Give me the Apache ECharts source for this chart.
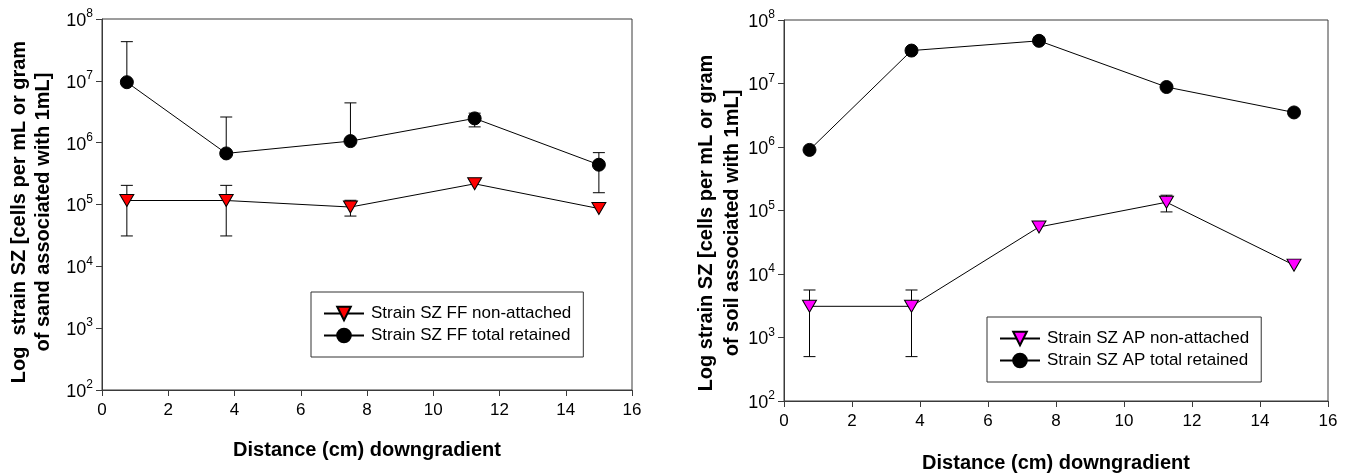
<!DOCTYPE html>
<html><head><meta charset="utf-8">
<script src="https://cdn.jsdelivr.net/npm/echarts@6/dist/echarts.min.js"></script>
<style>html,body{margin:0;padding:0;background:#fff}#c{width:1351px;height:474px}</style>
</head><body><div id="c"></div>
<script>
// ---- data ----
const distances = [0.75, 3.75, 7.5, 11.25, 15];
const xTicks = [0, 2, 4, 6, 8, 10, 12, 14, 16];
const yTickExponents = [2, 3, 4, 5, 6, 7, 8];

// left panel (FF)
const ffNonAttached = [1.16e5, 1.16e5, 9.1e4, 2.16e5, 8.6e4];
const ffNonAttachedLow = [3.1e4, 3.1e4, 6.5e4, null, null];
const ffNonAttachedHigh = [2.04e5, 2.04e5, 1.17e5, null, null];
const ffTotal = [9.5e6, 6.7e5, 1.06e6, 2.47e6, 4.4e5];
const ffTotalLow = [null, null, null, 1.8e6, 1.55e5];
const ffTotalHigh = [4.3e7, 2.6e6, 4.4e6, 3.0e6, 6.9e5];

// right panel (AP)
const apNonAttached = [3.1e3, 3.1e3, 5.5e4, 1.35e5, 1.38e4];
const apNonAttachedLow = [500, 500, null, 9.5e4, null];
const apNonAttachedHigh = [5.6e3, 5.6e3, null, 1.74e5, null];
const apTotal = [9.0e5, 3.3e7, 4.7e7, 8.8e6, 3.5e6];

const names = {
  ffNA: 'Strain SZ FF non-attached', ffT: 'Strain SZ FF total retained',
  apNA: 'Strain SZ AP non-attached', apT: 'Strain SZ AP total retained'
};

const FONT = "'Liberation Sans', Arial, sans-serif";
const TRI = 'path://M0,0L14,0L7,12Z';
const AXC = '#3a3a3a';

function pts(vals){ return distances.map((x,i)=>[x, vals[i]]); }

function errSeries(gi, vals, low, high){
  return {
    type: 'custom', xAxisIndex: gi, yAxisIndex: gi, z: 1, silent: true,
    data: pts(vals),
    renderItem: function(params, api){
      const i = params.dataIndex;
      const v = vals[i], lo = low[i], hi = high[i];
      if (lo == null && hi == null) return null;
      const x = distances[i];
      const pTop = api.coord([x, hi != null ? hi : v]);
      const pBot = api.coord([x, lo != null ? lo : v]);
      const st = {stroke: '#000', lineWidth: 1};
      const ch = [{type:'line', shape:{x1:pTop[0], y1:pTop[1], x2:pBot[0], y2:pBot[1]}, style: st}];
      if (hi != null) ch.push({type:'line', shape:{x1:pTop[0]-6, y1:pTop[1], x2:pTop[0]+6, y2:pTop[1]}, style: st});
      if (lo != null) ch.push({type:'line', shape:{x1:pBot[0]-6, y1:pBot[1], x2:pBot[0]+6, y2:pBot[1]}, style: st});
      return {type:'group', children: ch};
    }
  };
}

function lineSeries(gi, name, vals, symbol, size, color){
  return {
    type: 'line', name: name, xAxisIndex: gi, yAxisIndex: gi, z: 3,
    data: pts(vals), symbol: symbol, symbolSize: size,
    lineStyle: {color: '#000', width: 1},
    itemStyle: {color: color, borderColor: '#000', borderWidth: 1},
    emphasis: {disabled: true}, animation: false
  };
}

function xAxis(gi){
  return {
    type: 'value', gridIndex: gi, min: 0, max: 16, interval: 2,
    axisLine: {lineStyle: {color: AXC, width: 1}},
    axisTick: {show: true, length: 6, inside: false, lineStyle: {color: AXC}},
    splitLine: {show: false},
    axisLabel: {color: '#000', fontFamily: FONT, fontSize: 17, margin: 12,
      formatter: v => xTicks.includes(v) ? String(v) : ''}
  };
}
function yAxis(gi){
  return {
    type: 'log', logBase: 10, gridIndex: gi, min: 100, max: 1e8, interval: 1,
    axisLine: {show: true, lineStyle: {color: AXC, width: 1}},
    axisTick: {show: true, length: 6, inside: false, lineStyle: {color: AXC}},
    minorTick: {show: false},
    splitLine: {show: false},
    axisLabel: {
      margin: 9,
      formatter: v => {
        const e = Math.round(Math.log10(v));
        return yTickExponents.includes(e) ? '{b|10}{s|' + e + '}' : '';
      },
      rich: {
        b: {fontFamily: FONT, fontSize: 18, color: '#000', lineHeight: 22, verticalAlign: 'bottom'},
        s: {fontFamily: FONT, fontSize: 12, color: '#000', lineHeight: 22, verticalAlign: 'top', padding: [0,0,9,0]}
      }
    }
  };
}

function legend(left, top, width, data){
  return {
    left: left, top: top, width: width, orient: 'vertical',
    data: data, itemWidth: 40, itemHeight: 17, itemGap: 5,
    padding: [13, 12, 13, 12], borderColor: '#333', borderWidth: 1,
    backgroundColor: '#fff', selectedMode: false,
    textStyle: {fontFamily: FONT, fontSize: 17, color: '#000', padding: [0,0,0,2]}
  };
}

const titleFont = 'bold 20px ' + FONT;

const option = {
  animation: false,
  grid: [
    {left: 102, top: 19, width: 530, height: 371, show: true, borderColor: AXC, borderWidth: 1, backgroundColor: 'transparent'},
    {left: 784, top: 20, width: 544, height: 381, show: true, borderColor: AXC, borderWidth: 1, backgroundColor: 'transparent'}
  ],
  xAxis: [xAxis(0), xAxis(1)],
  yAxis: [yAxis(0), yAxis(1)],
  legend: [
    legend(311, 292, 279, [names.ffNA, names.ffT]),
    legend(987, 317, 294, [names.apNA, names.apT])
  ],
  series: [
    errSeries(0, ffNonAttached, ffNonAttachedLow, ffNonAttachedHigh),
    errSeries(0, ffTotal, ffTotalLow, ffTotalHigh),
    lineSeries(0, names.ffNA, ffNonAttached, TRI, [14, 12], '#ff0000'),
    lineSeries(0, names.ffT, ffTotal, 'circle', 13, '#000'),
    errSeries(1, apNonAttached, apNonAttachedLow, apNonAttachedHigh),
    lineSeries(1, names.apNA, apNonAttached, TRI, [14, 12], '#ff00ff'),
    lineSeries(1, names.apT, apTotal, 'circle', 13, '#000')
  ],
  graphic: [
    {type: 'text', x: 31, y: 212, rotation: Math.PI/2,
      style: {text: 'Log  strain SZ [cells per mL or gram\nof sand associated with 1mL]', font: titleFont, fill: '#000', align: 'center', verticalAlign: 'middle', lineHeight: 24}},
    {type: 'text', x: 367, y: 450,
      style: {text: 'Distance (cm) downgradient', font: titleFont, fill: '#000', align: 'center', verticalAlign: 'middle'}},
    {type: 'text', x: 719, y: 223, rotation: Math.PI/2,
      style: {text: 'Log strain SZ [cells per mL or gram\nof soil associated with 1mL]', font: titleFont, fill: '#000', align: 'center', verticalAlign: 'middle', lineHeight: 26}},
    {type: 'text', x: 1056, y: 463,
      style: {text: 'Distance (cm) downgradient', font: titleFont, fill: '#000', align: 'center', verticalAlign: 'middle'}}
  ]
};

const chart = echarts.init(document.getElementById('c'), null, {renderer: 'canvas'});
chart.setOption(option);
</script></body></html>
